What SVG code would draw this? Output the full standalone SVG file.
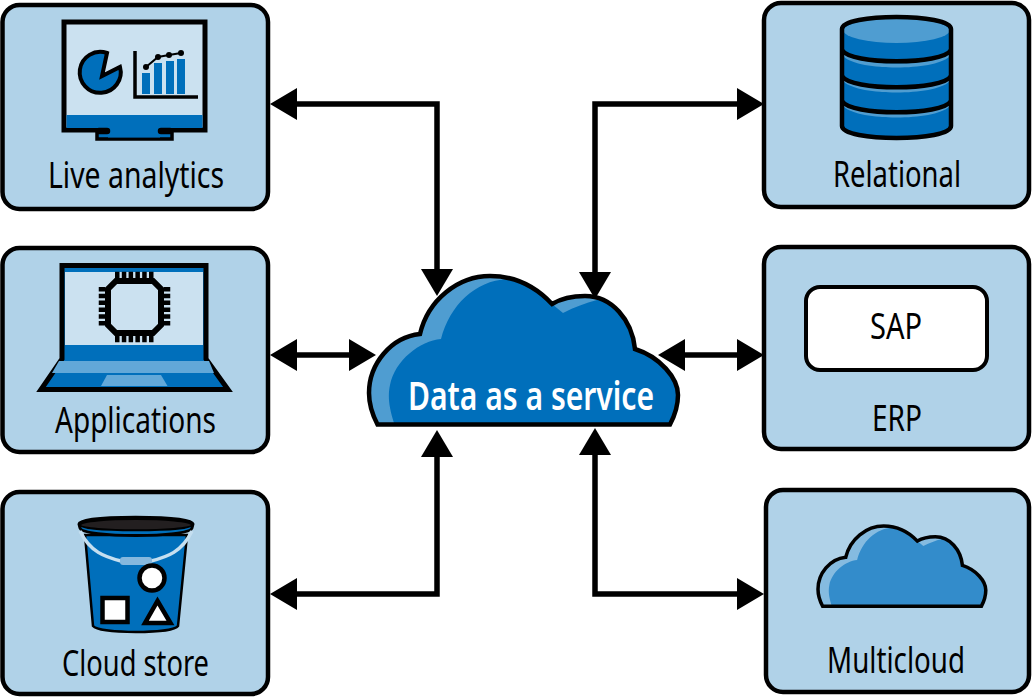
<svg xmlns="http://www.w3.org/2000/svg" width="1032" height="698" viewBox="0 0 1032 698">
<style>
.box{fill:#b0d2e8;stroke:#000;stroke-width:4.5}
.lbl{font-family:"Noto Sans","Open Sans",sans-serif;font-size:36px;fill:#000;text-anchor:start}
.k{stroke:#000;fill:none}
.blue{fill:#006fbb}
.scr{fill:#cbe1f0}
.conn{fill:none;stroke:#000;stroke-width:5.5;stroke-linejoin:miter}
</style>
<defs>
<marker id="ah" markerUnits="userSpaceOnUse" markerWidth="27" markerHeight="32" refX="0" refY="16" orient="auto-start-reverse" viewBox="0 0 27 32">
<path d="M0,0 L27,16 L0,32 Z" fill="#000"/>
</marker>
<path id="cloudShape" d="M377.500,424.500 C372,414 369,405 369,393 C369,364 391,337 420,334 C428,300 458,276 490,276 C516,276 537,288 552,304 C562,298 575,296 585,296 C612,296 632,320 635,349 C660,357 678,378 678,395 C678,405 675,415 670,424.500 Z"/>
<path id="cloudFront" d="M395,426 C388,405 388,395 390,385 C395,360 420,341 441,339 C450,305 475,281 507,279 L540,270 L552,304 L563,313 C575,307 585,303 597,300 L700,300 L700,430 Z"/>
<clipPath id="cloudClip"><use href="#cloudShape"/></clipPath>
</defs>
<rect width="1032" height="698" fill="#fff"/>
<g id="connectors">
<path class="conn" marker-start="url(#ah)" marker-end="url(#ah)" d="M297,104 H437 V269"/>
<path class="conn" marker-start="url(#ah)" marker-end="url(#ah)" d="M737,104 H595 V272"/>
<path class="conn" marker-start="url(#ah)" marker-end="url(#ah)" d="M297,355 H349"/>
<path class="conn" marker-start="url(#ah)" marker-end="url(#ah)" d="M685,355 H737"/>
<path class="conn" marker-start="url(#ah)" marker-end="url(#ah)" d="M297,594 H437 V457"/>
<path class="conn" marker-start="url(#ah)" marker-end="url(#ah)" d="M737,594 H595 V455"/>
</g>
<g id="live-analytics">
<rect class="box" x="2.5" y="5" width="265.500" height="204" rx="17"/>
<rect class="scr" x="64" y="22" width="141" height="108" stroke="#000" stroke-width="5"/>
<path class="blue" stroke="#000" stroke-width="3.500" d="M97,128 H172 V139 H97 Z"/>
<rect class="blue" x="66.500" y="115" width="136" height="13"/>
<rect class="blue" x="108" y="126" width="52" height="11.500"/>
<path d="M99,131 H107 M161,131 H170" stroke="#000" stroke-width="6.500" stroke-linecap="round" fill="none"/>
<path class="blue" stroke="#000" stroke-width="4" d="M107,53 A20.500,20.500 0 1 0 120,67 L102,76 Z"/>
<path class="k" stroke-width="3.500" d="M135,51 V97 H198"/>
<rect class="blue" x="142" y="73" width="8" height="21"/>
<rect class="blue" x="154" y="63" width="8" height="31"/>
<rect class="blue" x="166" y="61" width="8" height="33"/>
<rect class="blue" x="177" y="59" width="8" height="35"/>
<path class="k" stroke-width="2" d="M146,67 L158,57 L169,55 L181,53"/>
<circle cx="146" cy="67" r="3"/><circle cx="158" cy="57" r="3"/><circle cx="169" cy="55" r="3"/><circle cx="181" cy="53" r="3"/>
<text class="lbl" x="48" y="188" textLength="176" lengthAdjust="spacingAndGlyphs">Live analytics</text>
</g>
<g id="applications">
<rect class="box" x="2.5" y="248" width="265.500" height="204" rx="17"/>
<path class="blue" stroke="#000" stroke-width="5" stroke-linejoin="miter" d="M62,265.500 H206 V359 L228,389.500 H41 L62,359 Z"/>
<rect class="scr" x="65" y="272" width="138" height="73"/>
<path d="M59,361 H209 L214,373 H52 Z" fill="#62a8d8"/>
<path d="M107,375 H161 L167.500,386 H101 Z" fill="#62a8d8"/>
<path d="M115,275 H154 M115,339 H154" stroke="#000" stroke-width="6.500" stroke-dasharray="4.500 2.300" fill="none"/>
<path d="M102,287 V327 M167,287 V327" stroke="#000" stroke-width="6.500" stroke-dasharray="4.500 2.300" fill="none"/>
<path class="scr" stroke="#000" stroke-width="6" d="M116,281 H153 L161,289 V325 L153,333 H116 L108,325 V289 Z"/>
<text class="lbl" x="55" y="433" textLength="161" lengthAdjust="spacingAndGlyphs">Applications</text>
</g>
<g id="cloud-store">
<rect class="box" x="2.5" y="492" width="265.500" height="202" rx="17"/>
<path class="blue" stroke="#000" stroke-width="2.500" d="M85,535 L93,626 C100,634 172,634 178,626 L187,535 Z"/>
<path class="blue" stroke="#000" stroke-width="3" d="M79,524 C79,515 192,515 193,524 L192,528 C190,538 82,538 80,528 Z"/>
<path d="M80,525 C82,517 190,517 192,525 C190,532 82,532 80,525 Z" fill="#231f20" stroke="#000" stroke-width="2"/>
<path d="M80,531 C90,552 105,557 121,561 M151,561 C167,557 182,552 192,531" fill="none" stroke="#c5dff0" stroke-width="3.500"/>
<rect x="120" y="557" width="32" height="8" rx="3" fill="#85b8de"/>
<circle cx="152" cy="578" r="12.500" fill="#fff" stroke="#000" stroke-width="4.500"/>
<rect x="102.500" y="598" width="25" height="24" fill="#fff" stroke="#000" stroke-width="4.500"/>
<path d="M157.500,601 L170.500,623 H145 Z" fill="#fff" stroke="#000" stroke-width="4.500"/>
<text class="lbl" x="62" y="676" textLength="147" lengthAdjust="spacingAndGlyphs">Cloud store</text>
</g>
<g id="data-as-a-service">
<use href="#cloudShape" fill="#4f9dd1"/>
<use href="#cloudFront" fill="#006fbb" clip-path="url(#cloudClip)"/>
<use href="#cloudShape" fill="none" stroke="#000" stroke-width="4.500"/>
<text x="408" y="410" textLength="246" lengthAdjust="spacingAndGlyphs" style="font-family:'Noto Sans','Open Sans',sans-serif;font-size:40px;font-weight:600;fill:#fff">Data as a service</text>
</g>
<g id="relational">
<rect class="box" x="764" y="3" width="265" height="204" rx="17"/>
<path class="blue" d="M842,29 V126 C842,142 951,142 951,126 V29 C951,13 842,13 842,29 Z"/>
<ellipse cx="896.500" cy="30.500" rx="53" ry="12.500" fill="#4f9dd1"/>
<path d="M844,53 C860,67 933,67 949,53 V57 C933,71 860,71 844,57 Z M844,78 C860,92 933,92 949,78 V82 C933,96 860,96 844,82 Z M844,103 C860,117 933,117 949,103 V107 C933,121 860,121 844,107 Z" fill="#4f9dd1"/>
<path class="k" stroke-width="4.500" d="M842,50 C850,65 943,65 951,50 M842,76 C850,91 943,91 951,76 M842,101 C850,116 943,116 951,101"/>
<path class="k" stroke-width="4.500" d="M842,29 V126 C842,142 951,142 951,126 V29 C951,13 842,13 842,29 Z"/>
<text class="lbl" x="833" y="187" textLength="128" lengthAdjust="spacingAndGlyphs">Relational</text>
</g>
<g id="erp">
<rect class="box" x="764" y="247" width="265" height="202" rx="17"/>
<rect x="806" y="287" width="181" height="83" rx="14" fill="#fff" stroke="#000" stroke-width="4"/>
<text class="lbl" x="870" y="339" textLength="52" lengthAdjust="spacingAndGlyphs">SAP</text>
<text class="lbl" x="872" y="431" textLength="50" lengthAdjust="spacingAndGlyphs">ERP</text>
</g>
<g id="multicloud">
<rect class="box" x="766" y="490" width="263" height="202" rx="17"/>
<g transform="translate(818,526) scale(.543,.54) translate(-369,-276)">
<use href="#cloudShape" fill="#85bbe0"/>
<use href="#cloudFront" fill="#338ccb" clip-path="url(#cloudClip)"/>
<use href="#cloudShape" fill="none" stroke="#000" stroke-width="6.500"/>
</g>
<text class="lbl" x="827" y="673" textLength="138" lengthAdjust="spacingAndGlyphs">Multicloud</text>
</g>
</svg>
